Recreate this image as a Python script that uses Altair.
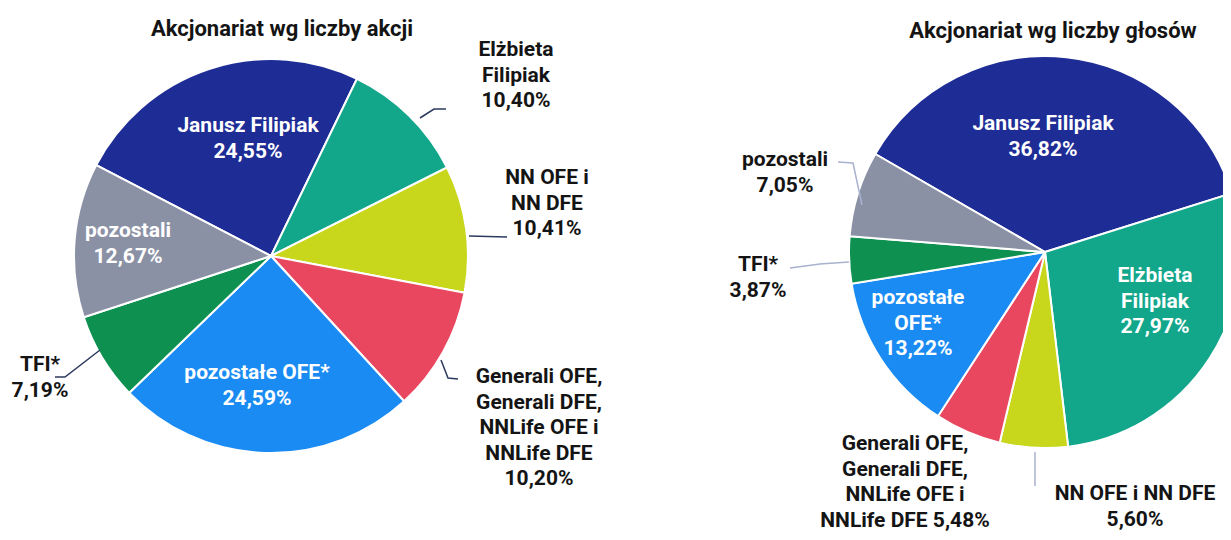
import math
import altair as alt
import pandas as pd

# ---------------- data ----------------
names = [
    "Janusz Filipiak",
    "Elżbieta Filipiak",
    "NN OFE i NN DFE",
    "Generali OFE, Generali DFE, NNLife OFE i NNLife DFE",
    "pozostałe OFE*",
    "TFI*",
    "pozostali",
]
left_values = [24.55, 10.40, 10.41, 10.20, 24.59, 7.19, 12.67]
right_values = [36.82, 27.97, 5.60, 5.48, 13.22, 3.87, 7.05]
colors = ["#1e2c95", "#12a68b", "#c8d61c", "#e8475f", "#1a8bf3", "#0e9150", "#8b91a5"]

left_title = "Akcjonariat wg liczby akcji"
right_title = "Akcjonariat wg liczby głosów"

left_texts = [
    "Janusz Filipiak\n24,55%",
    "Elżbieta\nFilipiak\n10,40%",
    "NN OFE i\nNN DFE\n10,41%",
    "Generali OFE,\nGenerali DFE,\nNNLife OFE i\nNNLife DFE\n10,20%",
    "pozostałe OFE*\n24,59%",
    "TFI*\n7,19%",
    "pozostali\n12,67%",
]
right_texts = [
    "Janusz Filipiak\n36,82%",
    "Elżbieta\nFilipiak\n27,97%",
    "NN OFE i NN DFE\n5,60%",
    "Generali OFE,\nGenerali DFE,\nNNLife OFE i\nNNLife DFE 5,48%",
    "pozostałe\nOFE*\n13,22%",
    "TFI*\n3,87%",
    "pozostali\n7,05%",
]
inside_left = [True, False, False, False, True, False, True]
inside_right = [True, True, False, False, True, False, False]

# ---------------- layout (page px, minus 8px margin) ----------------
M = 8
W, H = 1215, 524
L_CX, L_CY, L_R, L_START = 271 - M, 256 - M, 197, 297.5
R_CX, R_CY, R_R, R_START = 1045 - M, 252 - M, 196, 300.0

# centre of first text line (page px)
left_label_pos = [(248, 126), (516, 50), (547, 178), (539, 377), (257, 373), (40, 365), (128, 231)]
right_label_pos = [(1043, 124), (1155, 276), (1135, 494), (905, 444), (918, 298), (758, 265), (785, 160)]

leaders = [
    ("l_el", "#2c3a5e", [(420, 118), (434, 109), (446, 109)]),
    ("l_nn", "#2c3a5e", [(469, 236), (507, 237)]),
    ("l_ge", "#2c3a5e", [(441, 360), (448, 378), (458, 379)]),
    ("l_tfi", "#2c3a5e", [(100, 350), (65, 377), (55, 377)]),
    ("r_poz", "#a9b2cf", [(838, 162), (853, 163), (862, 205)]),
    ("r_tfi", "#a9b2cf", [(790, 268), (820, 264), (849, 262)]),
    ("r_nn", "#a9b2cf", [(1035, 452), (1035, 486)]),
]


def pie(values, cx, cy, r, start_deg):
    df = pd.DataFrame({"name": names, "value": values, "k": list(range(len(names)))})
    s = math.radians(start_deg)
    return alt.Chart(df).mark_arc(stroke="white", strokeWidth=2, clip=True).encode(
        theta=alt.Theta("value:Q", stack=True, scale=alt.Scale(range=[s, s + 2 * math.pi])),
        order=alt.Order("k:Q"),
        color=alt.Color("name:N", scale=alt.Scale(domain=names, range=colors), legend=None),
        x=alt.value(cx),
        y=alt.value(cy),
        radius=alt.value(r),
    )


rows = []
for txt, pos, ins in zip(left_texts, left_label_pos, inside_left):
    rows.append({"text": txt, "x": pos[0] - M, "y": pos[1] - M, "fill": "white" if ins else "#141414"})
for txt, pos, ins in zip(right_texts, right_label_pos, inside_right):
    rows.append({"text": txt, "x": pos[0] - M, "y": pos[1] - M, "fill": "white" if ins else "#141414"})
labels_df = pd.DataFrame(rows)

labels = alt.Chart(labels_df).mark_text(
    font="Roboto", fontWeight="bold", fontSize=21, lineBreak="\n", lineHeight=25.5,
    align="center", baseline="middle",
).encode(
    x=alt.X("x:Q", scale=None, axis=None),
    y=alt.Y("y:Q", scale=None, axis=None),
    text="text:N",
    color=alt.Color("fill:N", scale=None),
)

titles_df = pd.DataFrame({
    "text": [left_title, right_title],
    "x": [282 - M, 1053 - M],
    "y": [29 - M, 31 - M],
})
titles = alt.Chart(titles_df).mark_text(
    font="Roboto", fontWeight="bold", fontSize=22, align="center", baseline="middle", color="#141414"
).encode(
    x=alt.X("x:Q", scale=None, axis=None),
    y=alt.Y("y:Q", scale=None, axis=None),
    text="text:N",
)

lrows = []
for lid, col, pts in leaders:
    for i, (px, py) in enumerate(pts):
        lrows.append({"id": lid, "c": col, "seq": i, "x": px - M, "y": py - M})
leader_df = pd.DataFrame(lrows)
leader_lines = alt.Chart(leader_df).mark_line(strokeWidth=1.5).encode(
    x=alt.X("x:Q", scale=None, axis=None),
    y=alt.Y("y:Q", scale=None, axis=None),
    detail="id:N",
    order="seq:Q",
    color=alt.Color("c:N", scale=None),
)

chart = alt.layer(
    pie(left_values, L_CX, L_CY, L_R, L_START),
    pie(right_values, R_CX, R_CY, R_R, R_START),
    leader_lines,
    labels,
    titles,
).resolve_scale(theta="independent").properties(
    width=W, height=H, autosize=alt.AutoSizeParams(type="none"), padding=0
).configure_view(stroke=None)

chart.save("out.html", embed_options={"renderer": "svg", "actions": False})
